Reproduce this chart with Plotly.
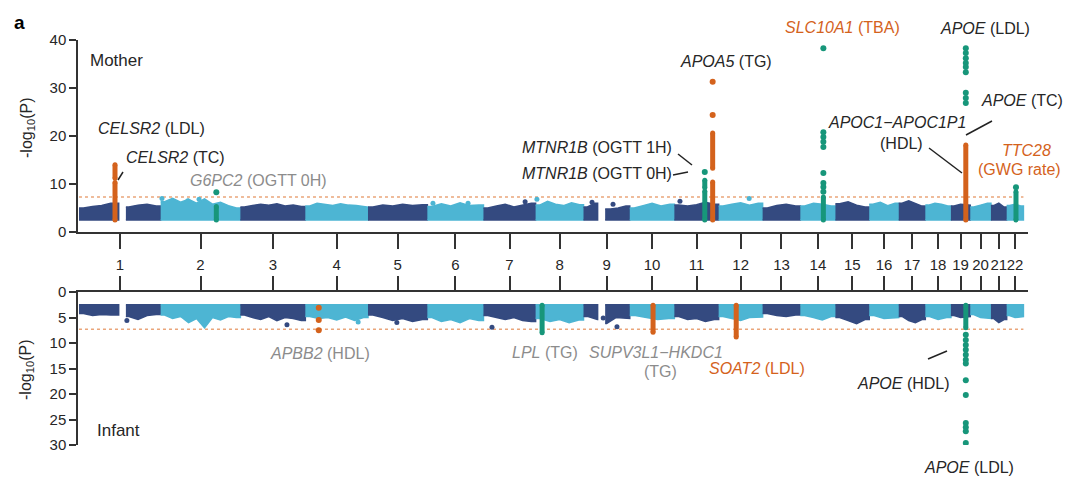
import numpy as np
import plotly.graph_objects as go

# chromosome layout (Mb, hg19 rounded)
chrom_len = [249, 243, 198, 191, 181, 171, 159, 146, 141, 136, 135,
             134, 115, 107, 103, 90, 81, 78, 59, 63, 48, 51]
chrom_labels = [str(c) for c in range(1, 23)]

# empty stretches inside a chromosome (heterochromatin)
gap_chr = [1, 9]
gap_lo = [121, 43]
gap_hi = [143, 66]

band_floor = 2.5
gw_threshold = 7.3

# upper envelope of the dense background SNP cloud, per chromosome
mother_env = [
    [5.0, 5.3, 5.5, 6.0, 5.8, 5.2, 5.6, 5.8, 5.4],
    [6.3, 7.0, 6.2, 6.8, 6.0, 6.9, 5.8, 6.2, 5.5, 5.0],
    [5.2, 5.5, 5.8, 5.6, 5.9, 5.4, 5.6, 5.3],
    [5.4, 6.0, 5.8, 5.5, 5.9, 5.6, 5.5, 5.2],
    [5.2, 5.6, 5.4, 5.8, 5.5, 5.7],
    [5.3, 5.9, 5.4, 6.1, 5.5, 5.6],
    [5.0, 5.4, 5.8, 5.2, 5.6, 6.0],
    [5.6, 6.4, 5.8, 5.5, 6.1, 5.7],
    [5.2, 6.0, 5.6, 4.8, 5.0, 5.4],
    [5.0, 5.5, 6.0, 5.4, 5.8],
    [5.6, 5.4, 5.7, 6.2, 5.8],
    [5.4, 5.8, 6.1, 5.6, 6.0],
    [5.0, 5.5, 5.8, 5.4],
    [5.4, 6.0, 5.8, 5.4],
    [5.9, 6.3, 5.6, 5.2],
    [5.8, 6.2, 5.5, 6.0],
    [6.0, 6.5, 5.9, 5.4],
    [5.6, 6.0, 5.8, 5.4],
    [5.4, 5.8, 5.6],
    [5.2, 5.6, 6.0],
    [5.5, 6.0, 5.2],
    [5.5, 5.8, 5.4],
]
infant_env = [
    [4.2, 4.6, 4.4, 4.5, 4.3, 4.8, 5.4, 4.6, 4.4],
    [4.5, 5.2, 4.8, 6.0, 5.2, 7.0, 5.0, 5.5, 4.8, 5.0],
    [4.5, 5.0, 5.4, 4.8, 5.6, 5.0, 5.2, 5.6],
    [4.8, 5.2, 5.0, 5.5, 4.9, 5.6, 5.0],
    [4.5, 5.0, 5.6, 5.2, 5.8, 5.4],
    [5.0, 5.8, 5.4, 6.0, 5.2, 5.6],
    [4.6, 5.0, 5.4, 5.0, 5.6, 5.8],
    [5.2, 5.8, 5.4, 6.0, 5.5],
    [4.8, 5.4, 6.2, 5.0, 5.2],
    [4.6, 5.0, 5.4, 5.2],
    [4.8, 5.4, 5.2, 5.8, 5.4],
    [4.8, 5.2, 5.6, 5.0, 4.9],
    [4.2, 4.6, 4.8, 4.5],
    [4.6, 5.0, 5.5, 4.8],
    [5.0, 5.6, 6.2, 5.4],
    [4.6, 5.2, 5.0],
    [4.8, 5.6, 6.0, 5.4],
    [4.8, 5.4, 5.0],
    [4.6, 5.0, 4.8],
    [4.4, 5.0, 5.2],
    [5.2, 6.0, 5.4],
    [4.6, 5.0, 4.8],
]

# isolated background SNPs standing out of the cloud
mother_stray_chr = [2, 2, 2, 6, 6, 7, 8, 9, 9, 11, 12]
mother_stray_pos = [4, 83, 117, 17, 124, 127, 4, 26, 90, 17, 93]
mother_stray_p = [7.0, 6.5, 6.8, 6.0, 6.0, 6.3, 6.8, 6.2, 5.8, 6.4, 7.0]
infant_stray_chr = [1, 3, 4, 5, 7, 9, 9]
infant_stray_pos = [146, 142, 161, 88, 26, 60, 102]
infant_stray_p = [5.6, 6.4, 5.9, 6.0, 6.9, 5.1, 6.8]

# highlighted loci: group 1 = orange, group 2 = green
mother_seg_chr = [1, 1, 2, 11, 11, 11, 11, 14, 19, 22]
mother_seg_pos = [109.8, 109.8, 169.7, 92.7, 92.7, 116.7, 116.7, 70.2, 45.4, 28.4]
mother_seg_lo = [2.5, 11.2, 2.5, 2.5, 9.2, 2.5, 13.3, 2.5, 2.5, 2.5]
mother_seg_hi = [10.3, 14.0, 5.3, 8.5, 10.8, 10.4, 20.6, 7.3, 18.1, 8.4]
mother_seg_grp = [1, 1, 2, 2, 2, 1, 1, 2, 1, 2]

mother_dot_chr = [2, 11, 11, 11,
                  14, 14, 14, 14, 14, 14, 14, 14, 14,
                  19, 19, 19, 19, 19, 19, 19, 19, 19, 22]
mother_dot_pos = [169.7, 92.7, 116.7, 116.7,
                  70.2, 70.2, 70.2, 70.2, 70.2, 70.2, 70.2, 70.2, 70.2,
                  45.4, 45.4, 45.4, 45.4, 45.4, 45.4, 45.4, 45.4, 45.4, 28.4]
mother_dot_p = [8.3, 12.5, 31.3, 24.4,
                38.3, 20.8, 19.8, 18.8, 17.7, 12.3, 10.2, 9.4, 8.4,
                38.3, 37.3, 36.2, 35.2, 34.4, 33.3, 29.0, 27.9, 26.9, 9.3]
mother_dot_grp = [2, 2, 1, 1] + [2] * 9 + [2] * 9 + [2]

infant_seg_chr = [8, 10, 12, 19]
infant_seg_pos = [19.8, 71.0, 53.5, 45.4]
infant_seg_lo = [2.6, 2.6, 2.6, 2.6]
infant_seg_hi = [8.0, 7.9, 8.8, 7.0]
infant_seg_grp = [2, 1, 1, 2]

infant_dot_chr = [4, 4, 4] + [19] * 13
infant_dot_pos = [40.9, 40.9, 40.9] + [45.4] * 13
infant_dot_p = [3.1, 5.5, 7.5,
                8.4, 9.4, 10.4, 11.3, 12.3, 13.3, 14.0, 17.3, 20.2, 25.7, 26.5, 27.3, 29.6]
infant_dot_grp = [1, 1, 1] + [2] * 13

DARK = "#344a80"
LIGHT = "#4db5d3"
ORANGE = "#d4621c"
GREEN = "#17967a"
GREY_TXT = "#8c8c8c"
TXT = "#262626"
FONT = "Liberation Sans, Arial, sans-serif"
grp_color = {1: ORANGE, 2: GREEN}

offsets = np.concatenate([[0], np.cumsum(chrom_len)[:-1]])
centers = offsets + np.array(chrom_len) / 2
total = float(sum(chrom_len))


def gpos(chrs, pos):
    return [offsets[c - 1] + p for c, p in zip(chrs, pos)]


def arms(ci):
    L = chrom_len[ci]
    if ci + 1 in gap_chr:
        k = gap_chr.index(ci + 1)
        return [(0, gap_lo[k]), (gap_hi[k], L)]
    return [(0, L)]


def band_trace(ci, env, color, xa, ya):
    L = chrom_len[ci]
    off = offsets[ci]
    n = len(env)
    pos = [(k + 0.5) * L / n for k in range(n)]
    xs, ys = [], []
    for lo, hi in arms(ci):
        sel = [(p, v) for p, v in zip(pos, env) if lo <= p <= hi]
        xs += [off + lo] + [off + p for p, _ in sel] + [off + hi, off + hi, off + lo, None]
        ys += [sel[0][1]] + [v for _, v in sel] + [sel[-1][1], band_floor, band_floor, None]
    return go.Scatter(x=xs, y=ys, mode="lines", fill="toself", fillcolor=color,
                      line=dict(color=color, width=1.5),
                      hoverinfo="skip", showlegend=False, xaxis=xa, yaxis=ya)


fig = go.Figure()

panels = [
    (mother_env, mother_stray_chr, mother_stray_pos, mother_stray_p,
     mother_seg_chr, mother_seg_pos, mother_seg_lo, mother_seg_hi, mother_seg_grp,
     mother_dot_chr, mother_dot_pos, mother_dot_p, mother_dot_grp, "x", "y"),
    (infant_env, infant_stray_chr, infant_stray_pos, infant_stray_p,
     infant_seg_chr, infant_seg_pos, infant_seg_lo, infant_seg_hi, infant_seg_grp,
     infant_dot_chr, infant_dot_pos, infant_dot_p, infant_dot_grp, "x2", "y2"),
]

for (env, s_chr, s_pos, s_p, g_chr, g_pos, g_lo, g_hi, g_grp,
     d_chr, d_pos, d_p, d_grp, xa, ya) in panels:
    # genome-wide significance line
    fig.add_trace(go.Scatter(x=[0, total], y=[gw_threshold, gw_threshold], mode="lines",
                             line=dict(color="#eaa57a", width=1.5, dash="dot"),
                             hoverinfo="skip", showlegend=False, xaxis=xa, yaxis=ya))
    for ci in range(22):
        col = DARK if ci % 2 == 0 else LIGHT
        fig.add_trace(band_trace(ci, env[ci], col, xa, ya))
    fig.add_trace(go.Scatter(x=gpos(s_chr, s_pos), y=s_p, mode="markers",
                             marker=dict(size=5, color=[DARK if c % 2 else LIGHT for c in s_chr]),
                             hoverinfo="skip", showlegend=False, xaxis=xa, yaxis=ya))
    for grp in (1, 2):
        xs, ys = [], []
        for c, p, lo, hi, g in zip(g_chr, g_pos, g_lo, g_hi, g_grp):
            if g == grp:
                x0 = offsets[c - 1] + p
                xs += [x0, x0, None]
                ys += [lo, hi, None]
        if xs:
            fig.add_trace(go.Scatter(x=xs, y=ys, mode="lines+markers",
                                     line=dict(color=grp_color[grp], width=5),
                                     marker=dict(size=5, color=grp_color[grp]),
                                     hoverinfo="skip", showlegend=False, xaxis=xa, yaxis=ya))
        sel = [(c, p, v) for c, p, v, g in zip(d_chr, d_pos, d_p, d_grp) if g == grp]
        if sel:
            fig.add_trace(go.Scatter(x=[offsets[c - 1] + p for c, p, _ in sel],
                                     y=[v for _, _, v in sel], mode="markers",
                                     marker=dict(size=6, color=grp_color[grp]),
                                     hoverinfo="skip", showlegend=False, xaxis=xa, yaxis=ya))

# the page body adds an 8 px offset; target pixels are from the reference picture
W, H = 1080, 483
OFF = 8
L_M, PW = 70, 950
R_M = W - L_M - PW


def px(x):
    return (x - OFF - L_M) / PW


def py(y):
    return (H - (y - OFF)) / H


xrange = [-3, total + 14]
axis_common = dict(showgrid=False, zeroline=False, showline=True, linecolor="#333333",
                   linewidth=1.5, ticks="outside", tickcolor="#333333", tickwidth=1.5,
                   automargin=False)

fig.update_layout(
    width=W, height=H, margin=dict(l=L_M, r=R_M, t=0, b=0, autoexpand=False),
    plot_bgcolor="white", paper_bgcolor="white",
    font=dict(family=FONT, size=15, color=TXT),
    xaxis=dict(domain=[0, 1], range=xrange, anchor="y", tickvals=centers,
               showticklabels=False, ticklen=15, **axis_common),
    xaxis2=dict(domain=[0, 1], range=xrange, anchor="y2", side="top", tickvals=centers,
                ticktext=chrom_labels, tickangle=0, ticklen=14,
                tickfont=dict(size=15, color=TXT), **axis_common),
    yaxis=dict(domain=[py(232), py(40)], range=[0, 40], anchor="x",
               tickvals=[0, 10, 20, 30, 40], ticklen=7, tickfont=dict(size=15, color=TXT),
               **axis_common),
    yaxis2=dict(domain=[py(445), py(292)], range=[30, 0], anchor="x2",
                tickvals=[0, 5, 10, 15, 20, 25, 30], ticklen=7, tickfont=dict(size=15, color=TXT),
                **axis_common),
)


def note(text, x, y, color=TXT, size=16, anchor="left", **kw):
    fig.add_annotation(text=text, x=px(x), y=py(y), xref="paper", yref="paper",
                       xanchor=anchor, yanchor="middle", showarrow=False,
                       font=dict(family=FONT, size=size, color=color), **kw)


note("<b>a</b>", 12, 22, color="#000000", size=19)
note("-log<sub>10</sub>(P)", 27, 128, size=16, anchor="center", textangle=-90)
note("-log<sub>10</sub>(P)", 27, 370, size=16, anchor="center", textangle=-90)
note("Mother", 88, 61, size=17)
note("Infant", 95, 430, size=17)

note("<i>CELSR2</i> (LDL)", 96, 128)
note("<i>CELSR2</i> (TC)", 124, 157)
note("<i>G6PC2</i> (OGTT 0H)", 188, 180, color=GREY_TXT)
note("<i>APOA5</i> (TG)", 678, 62)
note("<i>MTNR1B</i> (OGTT 1H)", 520, 147)
note("<i>MTNR1B</i> (OGTT 0H)", 520, 173)
note("<i>SLC10A1</i> (TBA)", 783, 27, color=ORANGE)
note("<i>APOE</i> (LDL)", 938, 28)
note("<i>APOE</i> (TC)", 979, 100)
note("<i>APOC1\u2212APOC1P1</i>", 897, 122, anchor="center")
note("(HDL)", 901, 143, anchor="center")
note("<i>TTC28</i>", 1026, 151, color=ORANGE, anchor="center")
note("(GWG rate)", 1019, 170, color=ORANGE, anchor="center")

note("<i>APBB2</i> (HDL)", 268, 353, color=GREY_TXT)
note("<i>LPL</i> (TG)", 510, 352, color=GREY_TXT)
note("<i>SUPV3L1\u2212HKDC1</i>", 587, 352, color=GREY_TXT)
note("(TG)", 660, 371, color=GREY_TXT, anchor="center")
note("<i>SOAT2</i> (LDL)", 707, 368, color=ORANGE)
note("<i>APOE</i> (HDL)", 855, 383)
note("<i>APOE</i> (LDL)", 922, 467)

# leader lines from labels to loci
leaders = [((118, 180), (123, 172)), ((678, 154), (692, 165)), ((673, 175), (688, 172)),
           ((992, 121), (966, 135)), ((929, 148), (962, 173)), ((928, 359), (947, 351))]
for (x0, y0), (x1, y1) in leaders:
    fig.add_shape(type="line", xref="paper", yref="paper",
                  x0=px(x0), y0=py(y0), x1=px(x1), y1=py(y1),
                  line=dict(color="#222222", width=1.5))

fig.write_html("out.html")
